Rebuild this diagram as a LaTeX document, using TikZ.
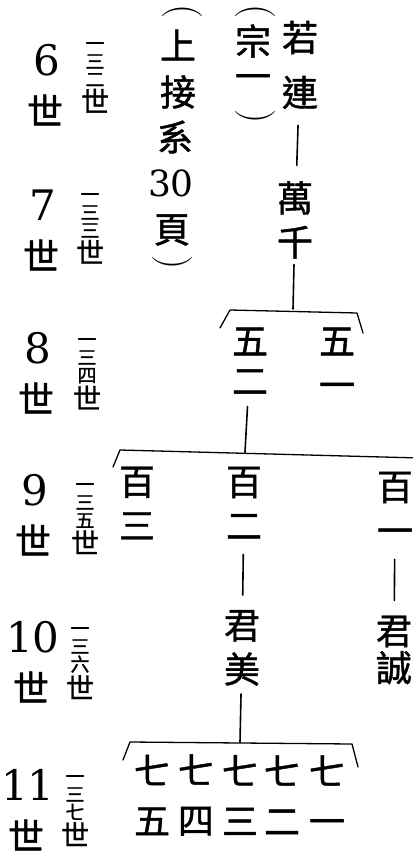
\documentclass[tikz,border=0pt]{standalone}
\usepackage{fontspec}
\newfontfamily\cjk{Noto Sans CJK TC}[FakeBold=1.2]
\newfontfamily\numfont{DejaVu Serif}
\usetikzlibrary{positioning}
\tikzset{
  person/.style = {font=\cjk\fontsize{36}{44}\selectfont, align=center, inner sep=0pt},
  note/.style   = {font=\cjk\fontsize{36}{36}\selectfont, inner sep=0pt},
  paren/.style  = {font=\fontsize{40}{40}\selectfont, inner sep=0pt},
  kin/.style    = {line width=1.6pt, line cap=round},
  bar/.style    = {line width=1.3pt, line join=round, line cap=round},
  gen/.style    = {font=\numfont\fontsize{42}{42}\selectfont, inner sep=0pt},
  shi/.style    = {font=\cjk\fontsize{36}{36}\selectfont, inner sep=0pt},
  tiny/.style   = {font=\cjk\fontsize{19}{18}\selectfont, align=center, inner sep=0pt},
  smallshi/.style = {font=\cjk\fontsize{28}{28}\selectfont, inner sep=0pt},
}
\newcommand{\vparen}[1]{\rotatebox[origin=c]{-90}{#1}}

\begin{document}
\begin{tikzpicture}[x=1pt,y=-1pt]
  \useasboundingbox (0,0) rectangle (412,864);
  % generations
  \foreach \g/\kan/\xd/\yd/\xs/\ys in {6/二/47/60/95/52, 7/三/43/205/90/203,
      8/四/38/348/87/348, 9/五/35/490/85/493, 10/六/33/637/80/637, 11/七/28/785/75/785}{
    \node[gen] (g\g) at (\xd,\yd) {\g};
    \node[shi] (gs\g) at (\xd-2,\yd+50) {世};
    \node[tiny,anchor=north] (k\g) at (\xs,\ys-10) {一\\三\\\kan};
    \node[smallshi,below=2pt of k\g] (ks\g) {世};}
  % side notes
  \node[paren] (n1) at (182,13) {\vparen{(}};
  \foreach \i/\x/\y/\t in {2/178/45/上, 3/178/92/接, 4/175/137/系, 6/172/230/頁}{
    \node[note] (n\i) at (\x,\y) {\t};}
  \node[gen,font=\numfont\fontsize{36}{36}\selectfont] (n5) at (171,183) {30};
  \node[paren] (n7) at (172,264) {\vparen{)}};
  \node[paren] (z1) at (255,13) {\vparen{(}};
  \node[note] (z2) at (253,41) {宗};
  \node[note] (z3) at (253,82) {一};
  \node[paren] (z4) at (255,118) {\vparen{)}};

  % persons
  \node[person,font=\cjk\fontsize{36}{55}\selectfont] (ruolian) at (300,65) {若\\連};
  \node[person] (wanqian) at (295,220) {萬\\千};
  \node[person,font=\cjk\fontsize{36}{40}\selectfont] (wuer) at (250,361) {五\\二};
  \node[person] (wuyi) at (337,363) {五\\一};
  \node[person] (baisan) at (137,503) {百\\三};
  \node[person] (baier) at (244,503) {百\\二};
  \node[person] (baiyi) at (395,508) {百\\一};
  \node[person] (junmei) at (242,648) {君\\美};
  \node[person,font=\cjk\fontsize{36}{37}\selectfont] (juncheng) at (394,650) {君\\誠};
  \foreach \i/\x/\kan in {1/327/一, 2/282/二, 3/240/三, 4/196/四, 5/152/五}{
    \node[person,font=\cjk\fontsize{36}{50}\selectfont] (qi\i) at (\x,795) {七\\\kan};}

  % brackets
  \coordinate (b8) at (293,309);
  \coordinate (b9) at (245,452);
  \coordinate (b11) at (240,742);
  \draw[bar] (220,328) -- (230,310) -- (357,313) -- (363,333);
  \draw[bar] (113,467) -- (120,450) -- (420,458);
  \draw[bar] (123,760) -- (130,742) -- (352,744) -- (358,767);

  % lines of descent
  \draw[kin,shorten <=16pt,shorten >=16pt] (ruolian) -- (wanqian);
  \draw[kin,shorten <=6pt] (wanqian) -- (b8);
  \draw[kin,shorten <=12pt] (wuer) -- (b9);
  \draw[kin,shorten <=15pt,shorten >=15pt] (baier) -- (junmei);
  \draw[kin,shorten <=15pt,shorten >=15pt] (baiyi) -- (juncheng);
  \draw[kin,shorten <=8pt] (junmei) -- (b11);
\end{tikzpicture}
\end{document}
